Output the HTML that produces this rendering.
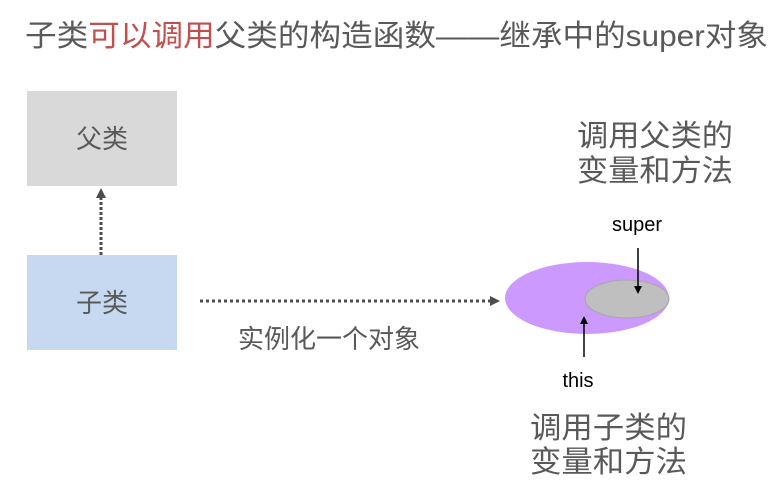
<!DOCTYPE html>
<html><head><meta charset="utf-8"><style>
body{margin:0;background:#fff;width:784px;height:496px;overflow:hidden}
svg text{font-family:"Liberation Sans","Noto Sans CJK SC",sans-serif;fill:#595959}
</style></head><body>
<svg width="784" height="496" viewBox="0 0 784 496" xmlns="http://www.w3.org/2000/svg">
<defs>
<marker id="ag" markerWidth="10" markerHeight="10" refX="7" refY="5" orient="auto" markerUnits="userSpaceOnUse"><path d="M0,0 L10,5 L0,10 z" fill="#4d4d4d"/></marker>
<marker id="ab" markerWidth="8" markerHeight="8" refX="6" refY="4" orient="auto" markerUnits="userSpaceOnUse"><path d="M0,0 L8,4 L0,8 z" fill="#000"/></marker>
</defs>
<text x="25" y="46" font-size="30" textLength="743" lengthAdjust="spacingAndGlyphs">子类<tspan style="fill:#c0504d">可以调用</tspan>父类的构造函数——继承中的super对象</text>
<rect x="27" y="91" width="150" height="95" fill="#d9d9d9"/>
<text x="102" y="148" font-size="26" text-anchor="middle">父类</text>
<rect x="27" y="255" width="150" height="95" fill="#c6d9f1"/>
<text x="102" y="312" font-size="26" text-anchor="middle">子类</text>
<line x1="101" y1="255" x2="101" y2="191" stroke="#4d4d4d" stroke-width="3" stroke-dasharray="3,2" marker-end="url(#ag)"/>
<line x1="200" y1="301" x2="497" y2="301" stroke="#4d4d4d" stroke-width="3" stroke-dasharray="3,3" marker-end="url(#ag)"/>
<text x="238" y="348" font-size="26" textLength="182" lengthAdjust="spacingAndGlyphs">实例化一个对象</text>
<ellipse cx="587" cy="298" rx="82" ry="36" fill="#cc99ff"/>
<ellipse cx="627" cy="299" rx="42" ry="19" fill="#bfbfbf" stroke="#a6a6a6" stroke-width="1"/>
<line x1="638" y1="248" x2="638" y2="292" stroke="#000" stroke-width="1.5" marker-end="url(#ab)"/>
<line x1="584" y1="357" x2="584" y2="318" stroke="#000" stroke-width="1.5" marker-end="url(#ab)"/>
<text x="637" y="231" font-size="20" text-anchor="middle" style="fill:#000">super</text>
<text x="578" y="387" font-size="20" text-anchor="middle" style="fill:#000">this</text>
<text x="577" y="146" font-size="30" textLength="156" lengthAdjust="spacingAndGlyphs">调用父类的</text>
<text x="577" y="181" font-size="30" textLength="156" lengthAdjust="spacingAndGlyphs">变量和方法</text>
<text x="530" y="438" font-size="30" textLength="157" lengthAdjust="spacingAndGlyphs">调用子类的</text>
<text x="530" y="472" font-size="30" textLength="157" lengthAdjust="spacingAndGlyphs">变量和方法</text>
</svg>
</body></html>
